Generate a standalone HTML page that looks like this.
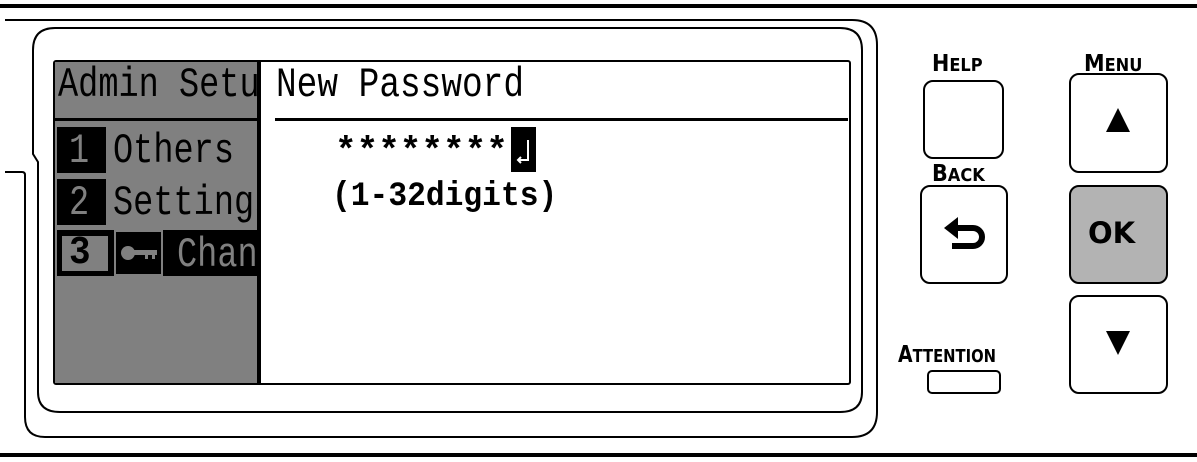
<!DOCTYPE html>
<html><head><meta charset="utf-8"><style>
body{margin:0;width:1197px;height:462px;background:#fff;position:relative;overflow:hidden;font-family:"Liberation Sans",sans-serif}
.a{position:absolute}
.t{position:absolute;white-space:nowrap;transform-origin:0 0;line-height:1;font-family:"Liberation Mono",monospace}
.btn{position:absolute;border:2px solid #000;border-radius:10px;box-sizing:border-box;background:#fff}
.lbl{position:absolute;font-weight:bold;font-family:"DejaVu Sans",sans-serif;white-space:nowrap;transform-origin:0 0;line-height:1}
</style></head><body>
<div class="a" style="left:0;top:4px;width:1197px;height:4px;background:#000"></div>
<div class="a" style="left:0;top:453px;width:1197px;height:4px;background:#000"></div>
<svg class="a" style="left:0;top:0" width="1197" height="462">
<path d="M5 20 H852 Q877 20 877 45 V412 Q877 437 852 437 H45 Q25 437 25 417 V175 Q25 172 22 172 H5" fill="none" stroke="#000" stroke-width="2"/>
<path d="M55 28 H840 Q862 28 862 50 V392 Q862 412 840 412 H60 Q38 412 38 392 V162 L33 154 V50 Q33 28 55 28Z" fill="none" stroke="#000" stroke-width="2"/>
<rect x="54" y="61" width="796" height="323" rx="2" fill="#fff" stroke="#000" stroke-width="2"/>
<rect x="55" y="62" width="203" height="321" fill="#808080"/>
<rect x="55" y="118" width="203" height="3" fill="#000"/>
<rect x="275" y="118" width="573" height="3" fill="#000"/>
<rect x="57" y="127" width="49" height="46" fill="#000"/>
<rect x="57" y="179" width="49" height="46" fill="#000"/>
<rect x="57" y="230" width="57" height="46" fill="#000"/>
<rect x="62" y="236" width="46" height="35" fill="#808080"/>
<rect x="116" y="232" width="45" height="42" fill="#000"/>
<circle cx="128" cy="253" r="7" fill="#808080"/><rect x="133" y="250" width="24" height="5" fill="#808080"/><rect x="145" y="253" width="3" height="6" fill="#808080"/><rect x="152" y="253" width="3" height="6" fill="#808080"/>
<rect x="163" y="230" width="95" height="46" fill="#000"/>
<rect x="511" y="127" width="25" height="45" fill="#000"/>
<path d="M528 140 V160 H518 M521 157 L518 160 L521 163" stroke="#fff" stroke-width="2" fill="none"/>
</svg>
<div class="a" style="left:55px;top:62px;width:203px;height:321px;overflow:hidden">
<div class="t" style="left:3px;top:2px;font-size:42px;transform:scaleX(0.8)">Admin Setup</div>
<div class="t" style="left:14px;top:68px;font-size:42px;color:#808080;transform:scaleX(0.8)">1</div>
<div class="t" style="left:58px;top:68px;font-size:42px;transform:scaleX(0.8)">Others</div>
<div class="t" style="left:14px;top:120px;font-size:42px;color:#808080;transform:scaleX(0.8)">2</div>
<div class="t" style="left:58px;top:120px;font-size:42px;transform:scaleX(0.8)">Settings</div>
<div class="t" style="left:14px;top:172px;font-size:40px;font-weight:bold;transform:scaleX(0.9)">3</div>
<div class="t" style="left:122px;top:172px;font-size:42px;color:#808080;transform:scaleX(0.8)">Change</div>
</div>
<div class="a" style="left:257px;top:61px;width:4px;height:323px;background:#000"></div>
<div class="t" style="left:276px;top:64px;font-size:42px;transform:scaleX(0.82)">New Password</div>
<div class="t" style="left:335px;top:134px;font-size:36px;font-weight:bold">********</div>
<div class="t" style="left:332px;top:180px;font-size:34px;font-weight:bold;transform:scaleX(0.92)">(1-32digits)</div>
<div class="lbl" style="left:932px;top:53px;font-size:23px;transform:scaleX(0.9)">H<span style="font-size:18px">ELP</span></div>
<div class="btn" style="left:923px;top:80px;width:81px;height:79px"></div>
<div class="lbl" style="left:932px;top:163px;font-size:23px;transform:scaleX(0.9)">B<span style="font-size:18px">ACK</span></div>
<div class="btn" style="left:920px;top:185px;width:88px;height:99px"></div>
<div class="lbl" style="left:898px;top:344px;font-size:23px;transform:scaleX(0.82)">A<span style="font-size:18px">TTENTION</span></div>
<div class="btn" style="left:927px;top:370px;width:74px;height:24px;border-radius:5px"></div>
<div class="lbl" style="left:1084px;top:53px;font-size:23px;transform:scaleX(0.9)">M<span style="font-size:18px">ENU</span></div>
<div class="btn" style="left:1069px;top:73px;width:99px;height:100px"></div>
<div class="btn" style="left:1069px;top:185px;width:99px;height:99px;background:#b3b3b3"></div>
<div class="lbl" style="left:1088px;top:219px;font-size:29px">OK</div>
<div class="btn" style="left:1069px;top:295px;width:99px;height:99px"></div>
<svg class="a" style="left:0;top:0" width="1197" height="462">
<polygon points="1118,108 1106,132 1130,132" fill="#000"/>
<polygon points="1106,331 1130,331 1118,355" fill="#000"/>
<path d="M950 228 H973 A9 9 0 0 1 973 246 H952" fill="none" stroke="#000" stroke-width="6"/>
<polygon points="944,228 958,217 958,239" fill="#000"/>
</svg>
</body></html>
